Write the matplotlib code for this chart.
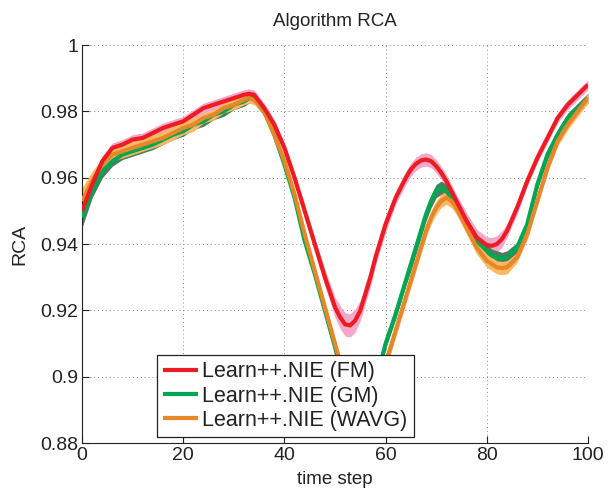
import matplotlib
matplotlib.use("Agg")
import matplotlib.pyplot as plt
import numpy as np

plt.rcParams['font.family'] = ['Liberation Sans', 'DejaVu Sans']

t = [0, 2, 4, 6, 8, 10, 12, 14, 16, 18, 20, 22, 24, 26, 28, 30, 32,
     33, 34, 35, 36,
     38, 40, 42, 44, 46, 48, 50,
     51, 52, 53, 54, 55, 56, 57, 58,
     60, 62, 64,
     65, 66, 67, 68, 69, 70, 71, 72, 73, 74,
     76, 78, 80,
     81, 82, 83, 84,
     86, 88, 90, 92, 94, 96, 98, 100]

fm = [0.950, 0.958, 0.965, 0.969, 0.970, 0.9715, 0.972, 0.9735, 0.975, 0.976, 0.977, 0.979, 0.981, 0.982, 0.983, 0.984, 0.985,
      0.9853, 0.985, 0.983, 0.981,
      0.976, 0.969, 0.960, 0.950, 0.940, 0.930, 0.921,
      0.918, 0.9158, 0.9155, 0.917, 0.920, 0.925, 0.930, 0.936,
      0.946, 0.954, 0.960,
      0.9625, 0.9642, 0.9652, 0.9655, 0.965, 0.9635, 0.9615, 0.959, 0.956, 0.953,
      0.947, 0.942, 0.9397,
      0.9395, 0.940, 0.9415, 0.944,
      0.951, 0.959, 0.966, 0.972, 0.978, 0.982, 0.985, 0.988]
fm_sd = [0.0015, 0.0015, 0.0015, 0.0015, 0.0015, 0.0015, 0.0015, 0.0015, 0.0015, 0.0015, 0.0015, 0.0015, 0.0015, 0.0015, 0.0015, 0.0015, 0.0015,
         0.0015, 0.0015, 0.0015, 0.0015,
         0.0015, 0.0015, 0.0015, 0.002, 0.002, 0.0025, 0.003,
         0.0035, 0.0035, 0.0035, 0.0035, 0.003, 0.003, 0.003, 0.0025,
         0.0025, 0.002, 0.002,
         0.002, 0.002, 0.002, 0.002, 0.002, 0.002, 0.002, 0.002, 0.002, 0.002,
         0.0025, 0.0025, 0.0025,
         0.0025, 0.0025, 0.0025, 0.002,
         0.002, 0.0015, 0.0015, 0.0015, 0.0015, 0.0015, 0.0015, 0.0015]

gm = [0.948, 0.956, 0.962, 0.965, 0.967, 0.968, 0.969, 0.970, 0.9715, 0.973, 0.974, 0.976, 0.977, 0.979, 0.980, 0.982, 0.983,
      0.984, 0.984, 0.982, 0.980,
      0.973, 0.964, 0.954, 0.941, 0.931, 0.920, 0.909,
      0.903, 0.898, 0.893, 0.889, 0.887, 0.888, 0.892, 0.898,
      0.910, 0.919, 0.929,
      0.934, 0.939, 0.944, 0.949, 0.953, 0.956, 0.957, 0.956, 0.954, 0.951,
      0.946, 0.941, 0.938,
      0.9365, 0.936, 0.9355, 0.936,
      0.939, 0.946, 0.958, 0.967, 0.973, 0.978, 0.981, 0.984]
gm_sd = [0.003, 0.002, 0.002, 0.0015, 0.0015, 0.0015, 0.0015, 0.0015, 0.0015, 0.0015, 0.0015, 0.0015, 0.0015, 0.0015, 0.0015, 0.0015, 0.0015,
         0.0015, 0.0015, 0.0015, 0.0015,
         0.0015, 0.0015, 0.0015, 0.0015, 0.0015, 0.0015, 0.0015,
         0.0015, 0.0015, 0.0015, 0.0015, 0.0015, 0.0015, 0.0015, 0.0015,
         0.0015, 0.0015, 0.0015,
         0.002, 0.002, 0.002, 0.002, 0.002, 0.002, 0.002, 0.002, 0.002, 0.002,
         0.002, 0.002, 0.002,
         0.002, 0.002, 0.002, 0.002,
         0.0015, 0.0015, 0.0015, 0.0015, 0.0015, 0.0015, 0.0015, 0.0015]

wavg = [0.953, 0.959, 0.964, 0.967, 0.968, 0.969, 0.970, 0.971, 0.972, 0.9735, 0.975, 0.976, 0.978, 0.979, 0.981, 0.982, 0.9835,
        0.984, 0.9835, 0.982, 0.980,
        0.973, 0.965, 0.955, 0.943, 0.932, 0.921, 0.910,
        0.9045, 0.899, 0.894, 0.890, 0.888, 0.887, 0.888, 0.893,
        0.904, 0.914, 0.924,
        0.929, 0.934, 0.939, 0.944, 0.948, 0.951, 0.953, 0.954, 0.953, 0.951,
        0.945, 0.939, 0.935,
        0.934, 0.933, 0.9328, 0.933,
        0.936, 0.943, 0.953, 0.963, 0.971, 0.976, 0.980, 0.984]
wavg_sd = [0.004, 0.003, 0.002, 0.002, 0.002, 0.002, 0.002, 0.002, 0.002, 0.002, 0.002, 0.002, 0.0015, 0.0015, 0.0015, 0.0015, 0.0015,
           0.0015, 0.0015, 0.0015, 0.0015,
           0.0015, 0.0015, 0.0015, 0.0015, 0.0015, 0.0015, 0.0015,
           0.0015, 0.0015, 0.0015, 0.0015, 0.0015, 0.0015, 0.0015, 0.0015,
           0.002, 0.002, 0.002,
           0.002, 0.002, 0.002, 0.002, 0.002, 0.002, 0.002, 0.002, 0.002, 0.002,
           0.002, 0.002, 0.002,
           0.002, 0.002, 0.002, 0.002,
           0.0015, 0.0015, 0.0015, 0.0015, 0.0015, 0.0015, 0.0015, 0.0015]

labels = ['Learn++.NIE (FM)', 'Learn++.NIE (GM)', 'Learn++.NIE (WAVG)']
line_colors = ['#ED1C24', '#00A651', '#E8862A']
band_colors = ['#F2A8CA', '#4E7D5E', '#FDB863']

fig = plt.figure(figsize=(6.08, 4.98), dpi=100)
ax = fig.add_axes([0.135, 0.110, 0.832, 0.7996])

x = np.array(t)
series = [np.array(fm), np.array(gm), np.array(wavg)]
sds = [np.array(fm_sd), np.array(gm_sd), np.array(wavg_sd)]

for s, sd, bc in zip(series, sds, band_colors):
    ax.fill_between(x, s - sd, s + sd, color=bc, lw=0, zorder=2)

handles = {}
for i in [1, 2, 0]:
    h, = ax.plot(x, series[i], color=line_colors[i], lw=3, zorder=3,
                 solid_capstyle='butt', solid_joinstyle='round')
    handles[i] = h

ax.set_xlim(0, 100)
ax.set_ylim(0.88, 1.0)
ax.set_xticks([0, 20, 40, 60, 80, 100])
ax.set_yticks([0.88, 0.9, 0.92, 0.94, 0.96, 0.98, 1.0])
ax.set_yticklabels(['0.88', '0.9', '0.92', '0.94', '0.96', '0.98', '1'])
ax.tick_params(direction='in', length=5, width=0.8, labelsize=14, pad=3, colors='#222222')
ax.grid(True, color='#888888', linestyle=(0, (1, 3)), linewidth=0.7)
ax.set_axisbelow(True)
for side in ['top', 'right']:
    ax.spines[side].set_visible(False)
for side in ['left', 'bottom']:
    ax.spines[side].set_color('#222222')
    ax.spines[side].set_linewidth(0.8)

ax.set_title('Algorithm RCA', fontsize=13.5, color='#222222', pad=14)
ax.set_xlabel('time step', fontsize=13.5, color='#222222', labelpad=5)
ax.set_ylabel('RCA', fontsize=14, color='#222222', labelpad=8)

leg = ax.legend([handles[0], handles[1], handles[2]], labels, loc='lower left',
                bbox_to_anchor=(0.148, 0.015), borderaxespad=0, fontsize=15.5,
                handlelength=1.6, handletextpad=0.2, labelspacing=0.15, borderpad=0.3,
                fancybox=False, framealpha=1, edgecolor='#222222')
leg.get_frame().set_linewidth(0.9)
leg.set_zorder(5)
for txt in leg.get_texts():
    txt.set_color('#222222')

fig.savefig('out.png', dpi=100)
